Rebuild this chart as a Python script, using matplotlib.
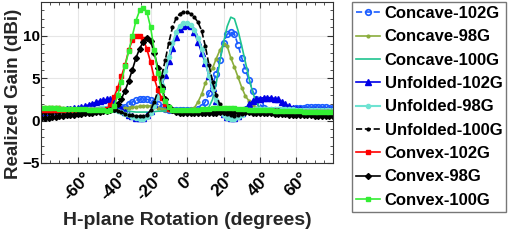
import numpy as np
import matplotlib
matplotlib.use("Agg")
import matplotlib.pyplot as plt
from matplotlib.ticker import MultipleLocator

plt.rcParams['font.family'] = ['Liberation Sans', 'DejaVu Sans']
plt.rcParams['font.weight'] = 'bold'

# rotation angle, degrees (2 degree steps)
angle = np.arange(-80, 81, 2)

concave_102 = [1.3, 1.3, 1.3, 1.3, 1.3, 1.3, 1.3, 1.3, 1.3, 1.3,
               1.3, 1.3, 1.3, 1.3, 1.3, 1.3, 1.3, 1.35, 1.4, 1.4,
               1.45, 1.5, 1.55, 1.6, 1.9, 2.2, 2.4, 2.5, 2.55, 2.5,
               2.4, 2.2, 1.9, 1.6, 1.4, 1.3, 1.2, 1.2, 1.2, 1.2,
               1.2, 1.2, 1.3, 1.4, 1.6, 2.2, 3.2, 4.3, 5.5, 7.2,
               9.2, 10.2, 10.4, 10.2, 8.9, 7.4, 6.0, 4.8, 3.5, 2.6,
               1.9, 1.5, 1.3, 1.2, 1.2, 1.2, 1.3, 1.3, 1.4, 1.4,
               1.5, 1.5, 1.5, 1.6, 1.6, 1.6, 1.6, 1.6, 1.6, 1.5,
               1.5]
concave_98 = [1.6, 1.6, 1.6, 1.6, 1.55, 1.55, 1.5, 1.5, 1.5, 1.5,
              1.45, 1.45, 1.4, 1.4, 1.4, 1.35, 1.35, 1.35, 1.35, 1.35,
              1.35, 1.4, 1.4, 1.45, 1.5, 1.55, 1.6, 1.7, 1.75, 1.75,
              1.7, 1.6, 1.5, 1.4, 1.3, 1.25, 1.2, 1.2, 1.2, 1.3,
              1.3, 1.4, 1.5, 2.2, 3.1, 4.4, 5.4, 6.2, 7.3, 8.3,
              9.0, 8.8, 7.4, 6.3, 5.1, 3.9, 2.9, 2.3, 1.8, 1.5,
              1.3, 1.2, 1.2, 1.2, 1.2, 1.2, 1.2, 1.2, 1.2, 1.2,
              1.2, 1.2, 1.2, 1.2, 1.2, 1.2, 1.2, 1.2, 1.2, 1.2,
              1.2]
concave_100 = [1.3, 1.3, 1.3, 1.3, 1.3, 1.3, 1.3, 1.3, 1.3, 1.3,
               1.3, 1.3, 1.3, 1.3, 1.3, 1.3, 1.3, 1.3, 1.3, 1.3,
               1.3, 1.25, 1.2, 1.15, 1.1, 1.05, 1.0, 1.0, 1.0, 1.0,
               1.0, 1.05, 1.1, 1.1, 1.15, 1.2, 1.2, 1.2, 1.2, 1.2,
               1.2, 1.2, 1.2, 1.2, 1.2, 1.3, 1.6, 2.5, 4.4, 7.0,
               9.2, 11.1, 12.2, 12.0, 10.6, 8.8, 6.9, 5.0, 3.3, 2.2,
               1.5, 1.2, 1.1, 1.1, 1.1, 1.1, 1.1, 1.1, 1.1, 1.1,
               1.1, 1.1, 1.1, 1.1, 1.1, 1.1, 1.1, 1.1, 1.1, 1.1,
               1.1]
unfolded_102 = [1.0, 1.05, 1.1, 1.15, 1.2, 1.25, 1.3, 1.35, 1.4, 1.45,
                1.5, 1.6, 1.7, 1.85, 2.0, 2.15, 2.3, 2.4, 2.5, 2.5,
                2.2, 1.8, 1.4, 1.0, 0.7, 0.5, 0.35, 0.3, 0.35, 0.6,
                1.1, 1.9, 2.9, 4.1, 5.4, 7.0, 8.6, 9.9, 10.8, 11.2,
                11.3, 11.1, 10.4, 9.3, 8.0, 6.8, 5.3, 3.8, 2.3, 1.4,
                0.8, 0.4, 0.3, 0.3, 0.5, 0.9, 1.4, 1.9, 2.3, 2.5,
                2.6, 2.7, 2.7, 2.7, 2.6, 2.5, 2.2, 1.9, 1.7, 1.5,
                1.4, 1.35, 1.3, 1.3, 1.3, 1.3, 1.3, 1.3, 1.3, 1.3,
                1.3]
unfolded_98 = [1.0, 1.0, 1.05, 1.05, 1.1, 1.1, 1.15, 1.15, 1.2, 1.2,
               1.25, 1.3, 1.3, 1.35, 1.4, 1.4, 1.45, 1.45, 1.45, 1.4,
               1.3, 1.15, 1.0, 0.8, 0.6, 0.4, 0.25, 0.2, 0.2, 0.4,
               0.9, 1.7, 2.8, 4.2, 5.8, 7.5, 9.1, 10.4, 11.2, 11.5,
               11.5, 11.3, 10.7, 9.8, 8.5, 7.0, 5.3, 3.7, 2.4, 1.4,
               0.7, 0.3, 0.2, 0.2, 0.4, 0.7, 1.0, 1.2, 1.3, 1.35,
               1.4, 1.4, 1.4, 1.4, 1.4, 1.4, 1.4, 1.4, 1.35, 1.35,
               1.3, 1.3, 1.3, 1.3, 1.3, 1.3, 1.3, 1.3, 1.25, 1.25,
               1.2]
unfolded_100 = [0.9, 0.9, 0.95, 0.95, 1.0, 1.0, 1.05, 1.05, 1.1, 1.1,
                1.1, 1.15, 1.15, 1.2, 1.2, 1.2, 1.25, 1.25, 1.25, 1.2,
                1.2, 1.1, 1.0, 0.8, 0.7, 0.6, 0.5, 0.5, 0.5, 0.7,
                1.2, 2.2, 3.5, 5.2, 7.1, 9.2, 11.0, 12.1, 12.6, 12.8,
                12.8, 12.6, 12.2, 11.6, 10.6, 8.8, 6.6, 4.6, 3.0, 1.9,
                1.2, 0.8, 0.6, 0.5, 0.6, 0.8, 1.0, 1.1, 1.2, 1.25,
                1.3, 1.3, 1.3, 1.25, 1.2, 1.2, 1.15, 1.1, 1.05, 1.0,
                0.95, 0.9, 0.85, 0.8, 0.75, 0.7, 0.65, 0.6, 0.55, 0.5,
                0.45]
convex_102 = [1.2, 1.2, 1.2, 1.2, 1.2, 1.2, 1.2, 1.2, 1.2, 1.2,
              1.2, 1.2, 1.2, 1.2, 1.2, 1.2, 1.25, 1.3, 1.4, 1.8,
              2.8, 3.9, 5.2, 6.6, 8.3, 9.5, 10.0, 10.0, 9.6, 8.4,
              6.9, 5.0, 3.6, 2.7, 1.9, 1.4, 1.2, 1.1, 1.1, 1.1,
              1.1, 1.1, 1.1, 1.1, 1.1, 1.1, 1.1, 1.1, 1.1, 1.1,
              1.1, 1.1, 1.1, 1.1, 1.1, 1.1, 1.1, 1.1, 1.1, 1.1,
              1.1, 1.1, 1.1, 1.1, 1.1, 1.05, 1.05, 1.05, 1.05, 1.05,
              1.05, 1.0, 1.0, 1.0, 1.0, 1.0, 1.0, 1.0, 1.0, 1.0,
              1.0]
convex_98 = [0.3, 0.3, 0.35, 0.4, 0.45, 0.5, 0.55, 0.6, 0.65, 0.7,
             0.75, 0.8, 0.85, 0.9, 0.95, 1.0, 1.05, 1.1, 1.15, 1.2,
             1.4, 1.9, 2.6, 3.5, 4.7, 6.0, 7.4, 8.5, 9.3, 9.7,
             9.4, 8.0, 6.2, 4.0, 2.5, 1.6, 1.2, 1.0, 0.9, 0.9,
             0.9, 0.9, 0.9, 0.9, 0.9, 0.9, 0.9, 0.95, 0.95, 1.0,
             1.0, 1.0, 1.0, 1.0, 1.0, 1.0, 1.0, 1.0, 0.95, 0.95,
             0.9, 0.9, 0.85, 0.85, 0.8, 0.8, 0.75, 0.75, 0.7, 0.7,
             0.65, 0.65, 0.6, 0.6, 0.6, 0.55, 0.55, 0.5, 0.5, 0.5,
             0.5]
convex_100 = [1.5, 1.5, 1.5, 1.45, 1.45, 1.4, 1.4, 1.4, 1.4, 1.4,
              1.4, 1.35, 1.35, 1.3, 1.3, 1.25, 1.2, 1.2, 1.15, 1.2,
              1.7, 3.0, 4.6, 6.4, 8.2, 10.0, 11.8, 13.0, 13.3, 12.8,
              11.0, 8.3, 5.6, 3.6, 2.3, 1.6, 1.3, 1.2, 1.2, 1.2,
              1.2, 1.25, 1.3, 1.3, 1.35, 1.4, 1.4, 1.45, 1.5, 1.5,
              1.5, 1.5, 1.5, 1.45, 1.4, 1.4, 1.35, 1.3, 1.3, 1.25,
              1.2, 1.2, 1.2, 1.2, 1.15, 1.15, 1.15, 1.1, 1.1, 1.1,
              1.1, 1.1, 1.05, 1.05, 1.05, 1.0, 1.0, 1.0, 1.0, 1.0,
              1.0]

xticks = [-60, -40, -20, 0, 20, 40, 60]

fig = plt.figure(figsize=(5.09, 2.41), dpi=100)
ax = fig.add_axes([0.081, 0.324, 0.573, 0.668])

ax.plot(angle, concave_102, '--o', color='#1a5cff', mfc='none', ms=4, mew=1.2, lw=1.2, label='Concave-102G')
ax.plot(angle, concave_98, '-', marker='.', color='#8aad3c', ms=4, lw=1.2, label='Concave-98G')
ax.plot(angle, concave_100, '-', color='#1fc48f', lw=1.2, label='Concave-100G')
ax.plot(angle, unfolded_102, '-^', color='#0000e6', ms=4, lw=1.2, label='Unfolded-102G')
ax.plot(angle, unfolded_98, '-', marker='.', color='#6fe3d2', ms=6, lw=1.5, label='Unfolded-98G')
ax.plot(angle, unfolded_100, '--', marker='.', color='black', ms=4, lw=1.2, label='Unfolded-100G')
ax.plot(angle, convex_102, '-s', color='#ff0000', ms=3, lw=1.2, label='Convex-102G')
ax.plot(angle, convex_98, '-D', color='black', ms=3, lw=1.2, label='Convex-98G')
ax.plot(angle, convex_100, '-s', color='#33ee33', ms=3, lw=1.2, label='Convex-100G')

ax.set_xlim(-80, 80)
ax.set_ylim(-5, 14)
ax.set_xticks(xticks)
ax.set_xticklabels([f'{t}°' for t in xticks], rotation=45, fontsize=12.5, fontweight='bold')
ax.set_yticks([-5, 0, 5, 10])
ax.tick_params(axis='y', labelsize=11, pad=1)
ax.tick_params(axis='x', pad=5)
ax.xaxis.set_minor_locator(MultipleLocator(5))
ax.yaxis.set_minor_locator(MultipleLocator(1))
ax.tick_params(which='both', direction='in', top=True, right=True, color='#333333')
ax.tick_params(which='major', length=4)
ax.tick_params(which='minor', length=2)
ax.grid(True, which='major', color='#e6e6e6', lw=0.8)
ax.set_axisbelow(True)
for s in ax.spines.values():
    s.set_color('#333333')

ax.set_xlabel('H-plane Rotation (degrees)', fontsize=14, fontweight='bold', color='#262626', labelpad=6)
ax.set_ylabel('Realized Gain (dBi)', fontsize=13.5, fontweight='bold', color='#262626')
ax.yaxis.set_label_coords(-0.066, 0.43)

leg = fig.legend(loc='upper left', bbox_to_anchor=(0.6916, 0.992), fontsize=12,
                 frameon=True, fancybox=False, edgecolor='#555555', handlelength=1.45,
                 handletextpad=0.25, labelspacing=0.5, borderpad=0.25, borderaxespad=0)
leg.get_frame().set_linewidth(1.0)

fig.savefig('out.png', dpi=100)
